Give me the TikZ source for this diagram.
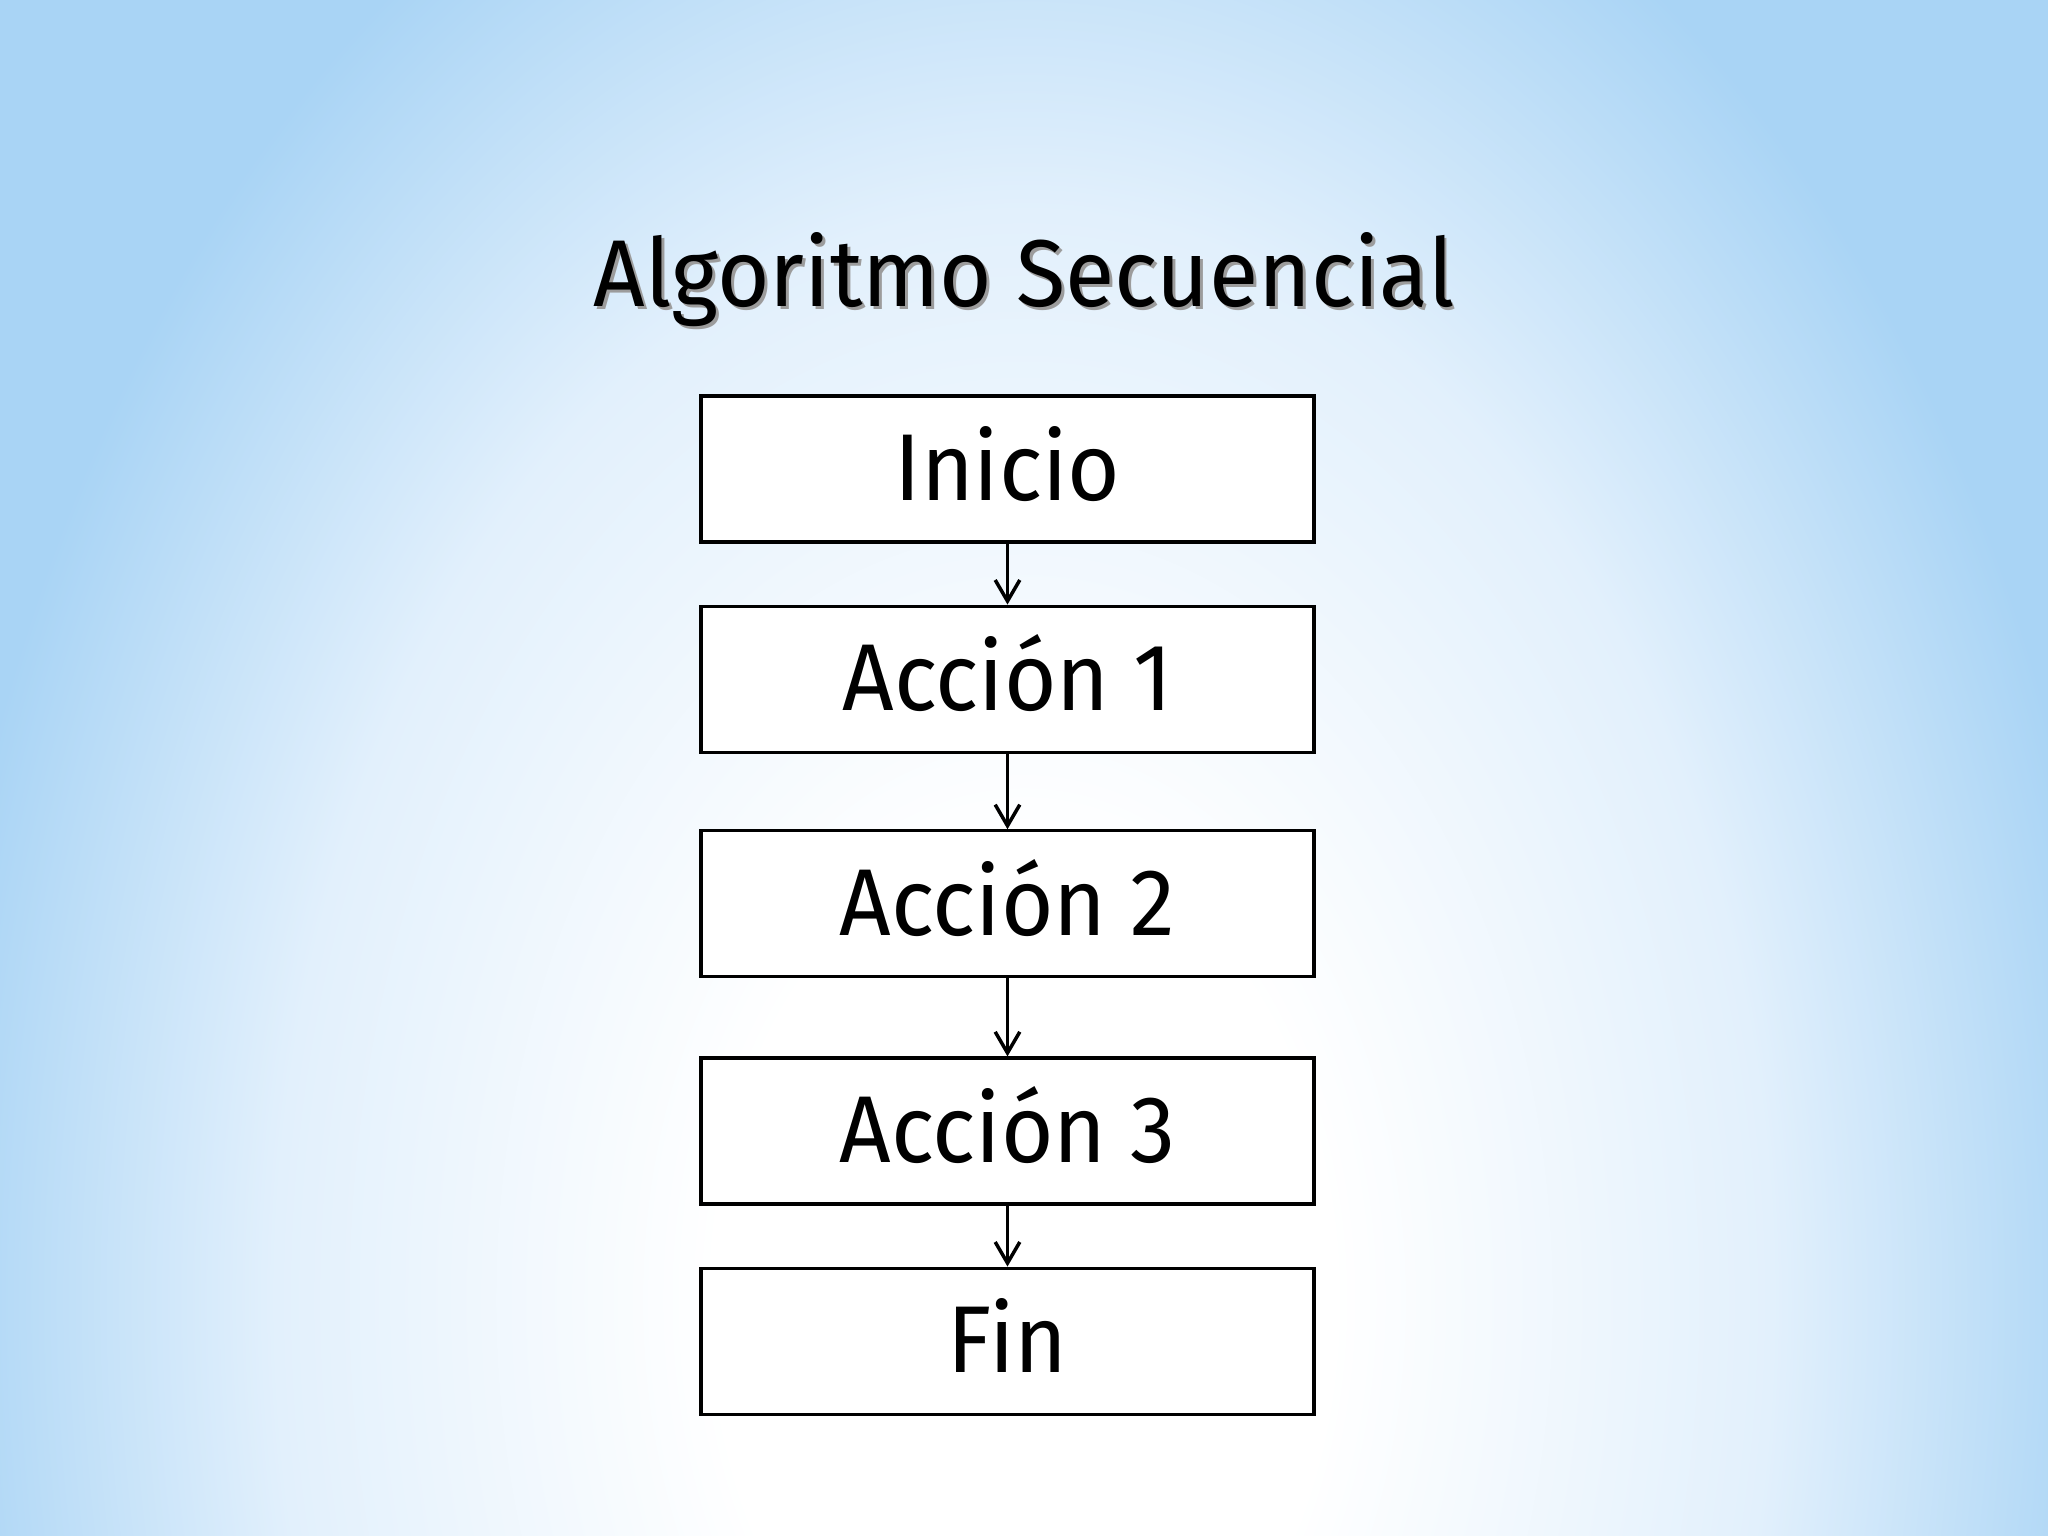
\documentclass[tikz,border=0pt]{standalone}
\usepackage{fontspec}
\usepackage{tikz}
\usetikzlibrary{positioning,arrows.meta}
\newfontfamily\slidefont[FakeStretch=0.95]{Fira Sans}
\definecolor{bgblue}{HTML}{A9D4F5}
\definecolor{bgmid}{HTML}{E2F0FC}
\definecolor{shadowgray}{HTML}{9C9C9C}
\pgfdeclareradialshading{slidebg}{\pgfpoint{0bp}{0bp}}{%
  color(0bp)=(white); color(7bp)=(white); color(17bp)=(bgmid); color(25bp)=(bgblue); color(50bp)=(bgblue)}
\tikzset{
  stepbox/.style={draw=black, fill=white, line width=0.9pt,
    minimum width=6.13cm, minimum height=1.46cm, inner sep=0pt,
    font=\slidefont\fontsize{27}{30}\selectfont, text height=18pt, text depth=0pt},
  flow/.style={draw=black, line width=0.6pt,
    -{Straight Barb[length=6pt,width=7pt,line width=1pt]}},
  ttl/.style={font=\slidefont\fontsize{27}{30}\selectfont, anchor=base},
}

\begin{document}
\begin{tikzpicture}
  % fondo
  \fill[bgblue] (0,0) rectangle (20.48,-15.36);
  \begin{scope}
    \clip (0,0) rectangle (20.48,-15.36);
    \shade[shading=slidebg] (10.24,-13.0) ellipse (11 and 16);
  \end{scope}
  \useasboundingbox (0,0) rectangle (20.48,-15.36);

  % titulo
  \node[ttl, text=shadowgray] (titlesh) at (10.27,-3.10) {Algoritmo Secuencial};
  \node[ttl] (title) at (10.24,-3.07) {Algoritmo Secuencial};

  % cajas
  \node[stepbox] (inicio) at (10.075,-4.69) {Inicio};
  \node[stepbox, below=0.61cm of inicio] (accion1) {Acción 1};
  \node[stepbox, below=0.755cm of accion1] (accion2) {Acción 2};
  \node[stepbox, below=0.78cm of accion2] (accion3) {Acción 3};
  \node[stepbox, below=0.61cm of accion3] (fin) {Fin};

  \draw[flow] (inicio) -- (accion1);
  \draw[flow] (accion1) -- (accion2);
  \draw[flow] (accion2) -- (accion3);
  \draw[flow] (accion3) -- (fin);
\end{tikzpicture}
\end{document}
